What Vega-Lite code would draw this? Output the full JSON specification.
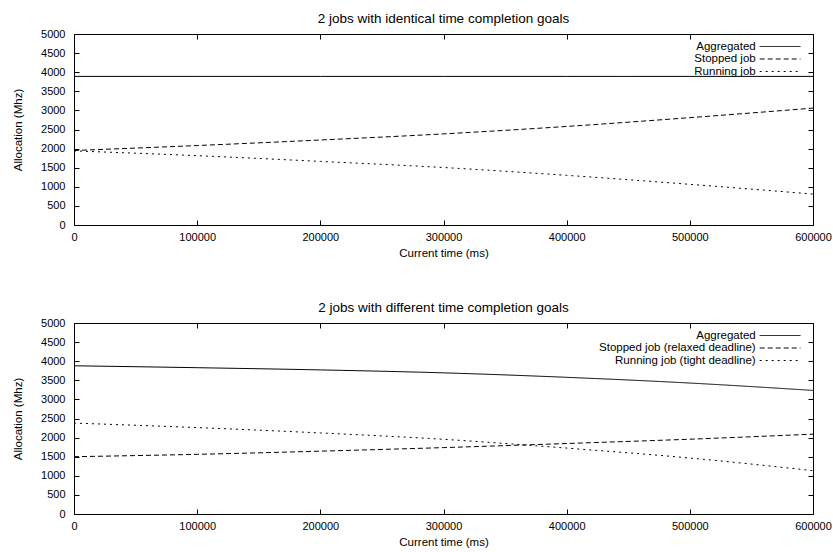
{
  "$schema": "https://vega.github.io/schema/vega-lite/v6.json",
  "autosize": {"type": "pad"},
  "padding": {"left": 12, "top": 11, "right": 1, "bottom": 10},
  "background": "white",
  "config": {
    "font": "Liberation Sans",
    "view": {"stroke": "black", "strokeWidth": 1},
    "axis": {
      "grid": false,
      "domain": false,
      "offset": -5,
      "tickColor": "black",
      "tickSize": 5,
      "tickWidth": 1,
      "labelFont": "Liberation Sans",
      "labelFontSize": 11,
      "labelColor": "black",
      "labelFlush": false,
      "labelOverlap": false,
      "titleFont": "Liberation Sans",
      "titleFontSize": 11.5,
      "titleFontWeight": "normal",
      "titleColor": "black"
    },
    "axisBottom": {"labelPadding": 6, "titlePadding": 5},
    "axisLeft": {"labelPadding": 9, "titlePadding": 17},
    "title": {"font": "Liberation Sans", "fontSize": 13.5, "fontWeight": "normal", "color": "black", "offset": 3},
    "legend": {
      "orient": "none",
      "legendX": 699.6,
      "legendY": 6,
      "padding": 0,
      "title": null,
      "symbolType": "M-3.4,0H3.4",
      "symbolSize": 144,
      "symbolStrokeWidth": 1,
      "symbolStrokeColor": "black",
      "symbolOffset": 0,
      "labelAlign": "right",
      "labelOffset": -30.9,
      "labelFont": "Liberation Sans",
      "labelFontSize": 11.5,
      "labelColor": "black",
      "rowPadding": 0.5
    }
  },
  "datasets": {
    "identical": [
      {"t": 0, "series": "Aggregated", "alloc": 3890},
      {"t": 100000, "series": "Aggregated", "alloc": 3890},
      {"t": 200000, "series": "Aggregated", "alloc": 3890},
      {"t": 300000, "series": "Aggregated", "alloc": 3890},
      {"t": 400000, "series": "Aggregated", "alloc": 3890},
      {"t": 500000, "series": "Aggregated", "alloc": 3890},
      {"t": 600000, "series": "Aggregated", "alloc": 3890},
      {"t": 0, "series": "Stopped job", "alloc": 1950},
      {"t": 100000, "series": "Stopped job", "alloc": 2080},
      {"t": 200000, "series": "Stopped job", "alloc": 2225},
      {"t": 300000, "series": "Stopped job", "alloc": 2385},
      {"t": 400000, "series": "Stopped job", "alloc": 2580},
      {"t": 500000, "series": "Stopped job", "alloc": 2810},
      {"t": 600000, "series": "Stopped job", "alloc": 3060},
      {"t": 0, "series": "Running job", "alloc": 1940},
      {"t": 100000, "series": "Running job", "alloc": 1815},
      {"t": 200000, "series": "Running job", "alloc": 1665},
      {"t": 300000, "series": "Running job", "alloc": 1505},
      {"t": 400000, "series": "Running job", "alloc": 1300},
      {"t": 500000, "series": "Running job", "alloc": 1065},
      {"t": 600000, "series": "Running job", "alloc": 810}
    ],
    "different": [
      {"t": 0, "series": "Aggregated", "alloc": 3880},
      {"t": 100000, "series": "Aggregated", "alloc": 3830},
      {"t": 200000, "series": "Aggregated", "alloc": 3772},
      {"t": 300000, "series": "Aggregated", "alloc": 3695},
      {"t": 400000, "series": "Aggregated", "alloc": 3578},
      {"t": 500000, "series": "Aggregated", "alloc": 3428},
      {"t": 600000, "series": "Aggregated", "alloc": 3235},
      {"t": 0, "series": "Stopped job (relaxed deadline)", "alloc": 1500},
      {"t": 100000, "series": "Stopped job (relaxed deadline)", "alloc": 1562},
      {"t": 200000, "series": "Stopped job (relaxed deadline)", "alloc": 1645},
      {"t": 300000, "series": "Stopped job (relaxed deadline)", "alloc": 1738},
      {"t": 400000, "series": "Stopped job (relaxed deadline)", "alloc": 1845},
      {"t": 500000, "series": "Stopped job (relaxed deadline)", "alloc": 1958},
      {"t": 600000, "series": "Stopped job (relaxed deadline)", "alloc": 2090},
      {"t": 0, "series": "Running job (tight deadline)", "alloc": 2380},
      {"t": 100000, "series": "Running job (tight deadline)", "alloc": 2262},
      {"t": 200000, "series": "Running job (tight deadline)", "alloc": 2122},
      {"t": 300000, "series": "Running job (tight deadline)", "alloc": 1955},
      {"t": 400000, "series": "Running job (tight deadline)", "alloc": 1725},
      {"t": 500000, "series": "Running job (tight deadline)", "alloc": 1465},
      {"t": 600000, "series": "Running job (tight deadline)", "alloc": 1135}
    ]
  },
  "vconcat": [
    {
      "title": "2 jobs with identical time completion goals",
      "width": 739,
      "height": 191,
      "data": {"name": "identical"},
      "layer": [
        {
          "mark": {"type": "line", "color": "black", "strokeWidth": 1, "interpolate": "monotone"},
          "encoding": {
            "x": {
              "field": "t", "type": "quantitative",
              "scale": {"domain": [0, 600000], "nice": false},
              "axis": {"title": "Current time (ms)", "orient": "bottom", "format": "d",
                       "values": [0, 100000, 200000, 300000, 400000, 500000, 600000]}
            },
            "y": {
              "field": "alloc", "type": "quantitative",
              "scale": {"domain": [0, 5000], "nice": false},
              "axis": {"title": "Allocation (Mhz)", "orient": "left", "format": "d",
                       "values": [0, 500, 1000, 1500, 2000, 2500, 3000, 3500, 4000, 4500, 5000]}
            },
            "strokeDash": {
              "field": "series", "type": "nominal",
              "scale": {"domain": ["Aggregated", "Stopped job", "Running job"],
                        "range": [[1, 0], [5, 3], [2, 4]]},
              "legend": {"title": null, "symbolType": "M-3.4,0H3.4"}
            }
          }
        },
        {
          "mark": {"type": "point", "opacity": 0, "size": 0},
          "encoding": {
            "x": {"field": "t", "type": "quantitative",
                  "axis": {"orient": "top", "labels": false, "title": null,
                           "values": [0, 100000, 200000, 300000, 400000, 500000, 600000]}},
            "y": {"field": "alloc", "type": "quantitative",
                  "axis": {"orient": "right", "labels": false, "title": null,
                           "values": [0, 500, 1000, 1500, 2000, 2500, 3000, 3500, 4000, 4500, 5000]}}
          }
        }
      ],
      "resolve": {"axis": {"x": "independent", "y": "independent"}}
    },
    {
      "title": "2 jobs with different time completion goals",
      "width": 739,
      "height": 191,
      "data": {"name": "different"},
      "layer": [
        {
          "mark": {"type": "line", "color": "black", "strokeWidth": 1, "interpolate": "monotone"},
          "encoding": {
            "x": {
              "field": "t", "type": "quantitative",
              "scale": {"domain": [0, 600000], "nice": false},
              "axis": {"title": "Current time (ms)", "orient": "bottom", "format": "d",
                       "values": [0, 100000, 200000, 300000, 400000, 500000, 600000]}
            },
            "y": {
              "field": "alloc", "type": "quantitative",
              "scale": {"domain": [0, 5000], "nice": false},
              "axis": {"title": "Allocation (Mhz)", "orient": "left", "format": "d",
                       "values": [0, 500, 1000, 1500, 2000, 2500, 3000, 3500, 4000, 4500, 5000]}
            },
            "strokeDash": {
              "field": "series", "type": "nominal",
              "scale": {"domain": ["Aggregated", "Stopped job (relaxed deadline)", "Running job (tight deadline)"],
                        "range": [[1, 0], [5, 3], [2, 4]]},
              "legend": {"title": null, "symbolType": "M-3.4,0H3.4"}
            }
          }
        },
        {
          "mark": {"type": "point", "opacity": 0, "size": 0},
          "encoding": {
            "x": {"field": "t", "type": "quantitative",
                  "axis": {"orient": "top", "labels": false, "title": null,
                           "values": [0, 100000, 200000, 300000, 400000, 500000, 600000]}},
            "y": {"field": "alloc", "type": "quantitative",
                  "axis": {"orient": "right", "labels": false, "title": null,
                           "values": [0, 500, 1000, 1500, 2000, 2500, 3000, 3500, 4000, 4500, 5000]}}
          }
        }
      ],
      "resolve": {"axis": {"x": "independent", "y": "independent"}}
    }
  ],
  "bounds": "flush",
  "spacing": 98,
  "resolve": {
    "scale": {"strokeDash": "independent", "x": "independent", "y": "independent"},
    "legend": {"strokeDash": "independent"}
  }
}
